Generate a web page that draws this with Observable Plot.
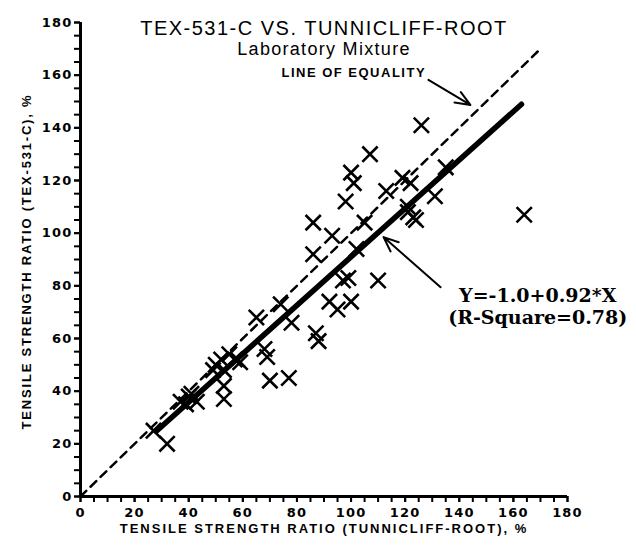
<!DOCTYPE html>
<html>
<head>
<meta charset="utf-8">
<script src="https://cdn.jsdelivr.net/npm/d3@7"></script>
<script src="https://cdn.jsdelivr.net/npm/@observablehq/plot@0.6"></script>
<style>
  html, body { margin: 0; padding: 0; background: #fff; }
  #chart svg { display: block; }
</style>
</head>
<body>
<div id="chart"></div>
<script>
// ---- data ----
const tunnicliffRoot = [27, 32, 37, 39, 41, 43, 40, 49, 50, 52, 55, 57, 59, 53, 53, 53, 58, 65, 68, 69, 70, 77, 74, 78, 87, 88, 86, 86, 93, 92, 95, 100, 97, 99, 98, 100, 101, 107, 102, 105, 110, 113, 119, 122, 121, 123, 124, 121, 126, 131, 135, 164];
const tex531c       = [25, 20, 36, 35, 39, 36, 38, 48, 50, 52, 54, 52, 51, 48, 37, 42, 52, 68, 56, 53, 44, 45, 73, 66, 62, 59, 92, 104, 99, 74, 71, 74, 82, 83, 112, 123, 119, 130, 94, 104, 82, 116, 121, 119, 110, 106, 105, 108, 141, 114, 125, 107];
const axisTicksMajor = [0, 20, 40, 60, 80, 100, 120, 140, 160, 180];
const axisTicksMinor = d3.range(0, 181, 5);
const equalityEnds = [0, 169];
const fitXEnds = [28, 163];
const intercept = -1.0, slope = 0.92;
const titleText = "TEX-531-C VS. TUNNICLIFF-ROOT";
const subtitleText = "Laboratory Mixture";
const xLabel = "TENSILE STRENGTH RATIO (TUNNICLIFF-ROOT), %";
const yLabel = "TENSILE STRENGTH RATIO (TEX-531-C), %";
const equalityLabel = "LINE OF EQUALITY";
const eqLine1 = "Y=-1.0+0.92*X";
const eqLine2 = "(R-Square=0.78)";

const points = tunnicliffRoot.map((x, i) => ({x, y: tex531c[i]}));
const equality = equalityEnds.map(v => ({x: v, y: v}));
const fit = fitXEnds.map(x => ({x, y: intercept + slope * x}));

const sans = "'Liberation Sans', Arial, sans-serif";
const bold = "'DejaVu Sans', sans-serif";

const chart = Plot.plot({
  width: 636,
  height: 546,
  marginLeft: 80,
  marginRight: 69,
  marginTop: 22,
  marginBottom: 50,
  style: {background: "#fff", color: "#000", fontFamily: sans},
  x: {domain: [0, 180]},
  y: {domain: [0, 180]},
  marks: [
    Plot.axisX({ticks: axisTicksMinor, tickFormat: () => "", tickSize: 6, strokeWidth: 2, label: null}),
    Plot.axisY({ticks: axisTicksMinor, tickFormat: () => "", tickSize: 6, strokeWidth: 2, label: null}),
    Plot.axisX({ticks: axisTicksMajor, tickSize: 6, tickPadding: 5, strokeWidth: 2, label: null, fontSize: 13, fontWeight: "bold", fontFamily: bold}),
    Plot.axisY({ticks: axisTicksMajor, tickSize: 6, tickPadding: 2, strokeWidth: 2, label: null, fontSize: 13, fontWeight: "bold", fontFamily: bold}),
    Plot.ruleX([0], {y1: 0, y2: 180, strokeWidth: 3}),
    Plot.ruleY([0], {x1: 0, x2: 180, strokeWidth: 3}),
    Plot.line(equality, {x: "x", y: "y", strokeWidth: 2.5, strokeDasharray: "8,6"}),
    Plot.line(fit, {x: "x", y: "y", strokeWidth: 5.5, strokeLinecap: "round"}),
    Plot.dot(points, {x: "x", y: "y", symbol: "times", r: 7, stroke: "#000", strokeWidth: 2.6}),
    Plot.text([titleText], {frameAnchor: "top", dy: -2, fontSize: 20}),
    Plot.text([subtitleText], {frameAnchor: "top", dy: 20, fontSize: 18}),
    Plot.text([equalityLabel], {x: 101, y: 161, fontSize: 13, fontWeight: "bold"}),
    Plot.arrow([{x1: 128.6, y1: 158.2, x2: 144.1, y2: 148.7}], {x1: "x1", y1: "y1", x2: "x2", y2: "y2", strokeWidth: 2, headLength: 12, headAngle: 45}),
    Plot.arrow([{x1: 133.1, y1: 79.5, x2: 112, y2: 98.5}], {x1: "x1", y1: "y1", x2: "x2", y2: "y2", strokeWidth: 2, headLength: 12, headAngle: 45}),
    Plot.text([eqLine1], {x: 169, y: 76, fontSize: 19, fontWeight: "bold", fontFamily: "'DejaVu Serif', serif"}),
    Plot.text([eqLine2], {x: 169, y: 67.7, fontSize: 19, fontWeight: "bold", fontFamily: "'DejaVu Serif', serif"}),
    Plot.text([xLabel], {frameAnchor: "bottom", dy: 36, fontSize: 13, fontWeight: "bold"}),
    Plot.text([yLabel], {frameAnchor: "left", textAnchor: "middle", dx: -54, dy: 2, rotate: -90, fontSize: 13, fontWeight: "bold"})
  ]
});

// letter spacing / weight tweaks (styling only)
const spacing = new Map([
  [titleText, 1.5], [subtitleText, 1.3], [equalityLabel, 1.5],
  [xLabel, 2], [yLabel, 1.8]
]);
const majorLabels = new Set(axisTicksMajor.map(String));
d3.select(chart).selectAll("text").each(function() {
  const t = this.textContent.trim();
  if (spacing.has(t)) d3.select(this).style("letter-spacing", spacing.get(t) + "px");
  else if (majorLabels.has(t)) d3.select(this)
    .style("font-weight", "900").style("font-size", "13px")
    .style("font-family", bold).style("letter-spacing", "1.2px");
});
document.getElementById("chart").appendChild(chart);
</script>
</body>
</html>
